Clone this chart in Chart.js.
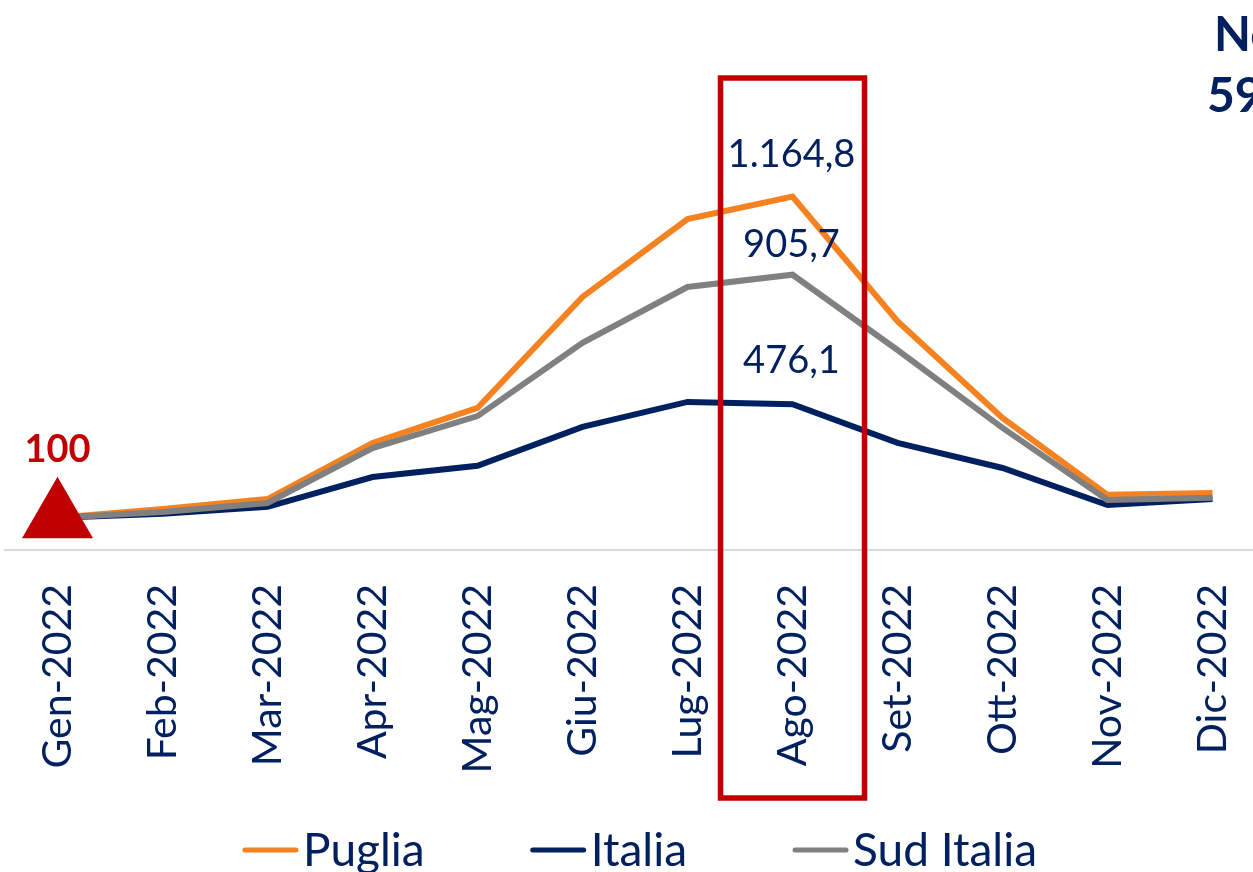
<!DOCTYPE html>
<html>
<head>
<meta charset="utf-8">
<script src="https://cdn.jsdelivr.net/npm/chart.js@4/dist/chart.umd.min.js"></script>
<style>
  html, body { margin: 0; padding: 0; background: #ffffff; overflow: hidden; }
  #wrap { position: relative; width: 1265px; height: 872px; }
</style>
</head>
<body>
<div id="wrap"><canvas id="c"></canvas></div>
<script>
// ---- data ----
const categories = ['Gen-2022','Feb-2022','Mar-2022','Apr-2022','Mag-2022','Giu-2022','Lug-2022','Ago-2022','Set-2022','Ott-2022','Nov-2022','Dic-2022'];
const puglia    = [100, 129, 162, 348, 464, 832, 1090, 1164.8, 752, 431, 176, 182];
const italia    = [100, 113, 136, 235, 272, 401, 484, 476.1, 348, 265, 142, 162];
const sudItalia = [100, 119, 149, 331, 437, 680, 865, 905.7, 656, 398, 159, 166];
const baseMarker = [100];
const baseLabel = '100';
const highlightIndex = 7;
const cornerLines = ['Nord', '59'];

const NAVY = '#002060', ORANGE = '#F58220', GREY = '#808080', RED = '#C00000';

function fmtIt(v) {
  const parts = v.toFixed(1).split('.');
  const int = parts[0].replace(/\B(?=(\d{3})+(?!\d))/g, '.');
  return int + ',' + parts[1];
}

const overlay = {
  id: 'overlay',
  afterDatasetsDraw(chart) {
    const ctx = chart.ctx;
    const xs = chart.scales.x;
    ctx.save();
    // values at highlighted month
    const offs = { 'Puglia': 42, 'Italia': 44, 'Sud Italia': 30 };
    ctx.font = '38px Lato';
    ctx.fillStyle = NAVY;
    ctx.textAlign = 'center';
    ctx.textBaseline = 'middle';
    chart.data.datasets.forEach((ds, i) => {
      if (!(ds.label in offs)) return;
      const pt = chart.getDatasetMeta(i).data[highlightIndex];
      ctx.fillText(fmtIt(ds.data[highlightIndex]), pt.x - 1, pt.y - offs[ds.label]);
    });
    // base marker label
    const mk = chart.getDatasetMeta(0).data[0];
    ctx.font = 'bold 38px Lato';
    ctx.fillStyle = RED;
    ctx.fillText(baseLabel, mk.x, mk.y - 68);
    // highlight box
    const cx = xs.getPixelForValue(highlightIndex);
    ctx.strokeStyle = RED;
    ctx.lineWidth = 5.5;
    ctx.strokeRect(cx - 72, 78, 144, 720);
    // corner text (cut by the page edge)
    ctx.font = 'bold 48px Lato';
    ctx.fillStyle = NAVY;
    ctx.textAlign = 'left';
    ctx.fillText(cornerLines[0], 1214, 36);
    ctx.fillText(cornerLines[1], 1207, 97);
    // legend
    ctx.font = '46px Lato';
    ctx.textBaseline = 'middle';
    const items = ['Puglia', 'Italia', 'Sud Italia'].map(l => chart.data.datasets.find(d => d.label === l));
    const lineW = 55, gap = 5, between = 106;
    const widths = items.map(d => lineW + gap + ctx.measureText(d.label).width);
    const total = widths.reduce((a, b) => a + b, 0) + between * (items.length - 1);
    let x = 640 - total / 2;
    const ly = 850;
    items.forEach((d, i) => {
      ctx.strokeStyle = d.borderColor;
      ctx.lineWidth = 5;
      ctx.lineCap = 'round';
      ctx.beginPath();
      ctx.moveTo(x + 2, ly);
      ctx.lineTo(x + lineW - 2, ly);
      ctx.stroke();
      ctx.fillStyle = NAVY;
      ctx.fillText(d.label, x + lineW + gap, ly + 1);
      x += widths[i] + between;
    });
    ctx.restore();
  }
};

new Chart(document.getElementById('c'), {
  type: 'line',
  data: {
    labels: categories,
    datasets: [
      { label: 'base', data: baseMarker, showLine: false, pointStyle: 'triangle', pointRadius: 41,
        pointBackgroundColor: RED, pointBorderColor: RED, pointBorderWidth: 0, order: 0 },
      { label: 'Sud Italia', data: sudItalia, borderColor: GREY, borderWidth: 6, pointRadius: 0, tension: 0, order: 1 },
      { label: 'Italia', data: italia, borderColor: NAVY, borderWidth: 6, pointRadius: 0, tension: 0, order: 2 },
      { label: 'Puglia', data: puglia, borderColor: ORANGE, borderWidth: 6, pointRadius: 0, tension: 0, order: 3 }
    ]
  },
  options: {
    responsive: true,
    maintainAspectRatio: false,
    animation: false,
    layout: { autoPadding: false, padding: { top: 5, left: 5, right: 0, bottom: 0 } },
    plugins: { legend: { display: false }, tooltip: { enabled: false } },
    scales: {
      x: {
        offset: true,
        grid: { display: false, drawTicks: false },
        border: { display: true, color: '#D9D9D9', width: 2 },
        ticks: { color: NAVY, font: { family: 'Lato', size: 41 }, minRotation: 90, maxRotation: 90, padding: 34, autoSkip: false },
        afterFit(s) { s.height = 322; s.paddingLeft = 0; s.paddingRight = 0; }
      },
      y: { display: false, min: -7, max: 1800 }
    }
  },
  plugins: [overlay]
});
</script>
</body>
</html>
